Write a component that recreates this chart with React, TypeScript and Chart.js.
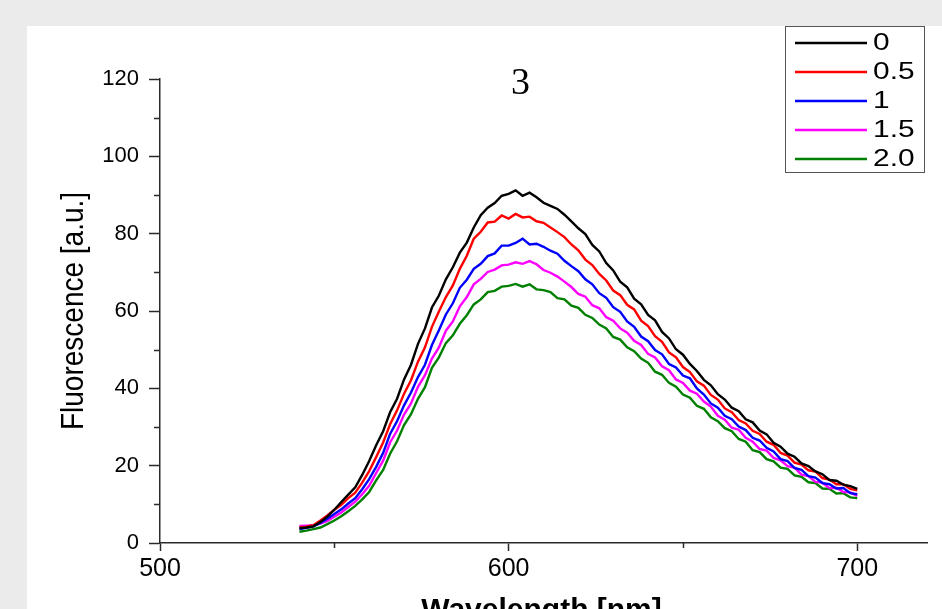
import React, { useEffect, useRef } from 'react';
import { Chart, registerables } from 'chart.js';

Chart.register(...registerables);

// ---------- data ----------
const wavelengths = [
  540, 542, 544, 546, 548, 550, 552, 554, 556, 558,
  560, 562, 564, 566, 568, 570, 572, 574, 576, 578,
  580, 582, 584, 586, 588, 590, 592, 594, 596, 598,
  600, 602, 604, 606, 608, 610, 612, 614, 616, 618,
  620, 622, 624, 626, 628, 630, 632, 634, 636, 638,
  640, 642, 644, 646, 648, 650, 652, 654, 656, 658,
  660, 662, 664, 666, 668, 670, 672, 674, 676, 678,
  680, 682, 684, 686, 688, 690, 692, 694, 696, 698,
  700,
];

const series0 = [
  3.8, 4.0, 4.3, 5.4, 6.8, 8.6, 10.6, 12.5, 14.4, 17.6,
  21.2, 25.3, 28.9, 33.8, 37.3, 42.3, 46.1, 51.5, 55.5, 60.9,
  64.0, 68.2, 71.3, 75.1, 77.7, 81.6, 84.8, 86.7, 87.9, 89.8,
  90.3, 91.2, 89.8, 90.6, 89.4, 88.0, 87.2, 86.4, 84.9, 83.2,
  81.4, 79.9, 77.1, 75.4, 72.4, 70.5, 67.6, 66.1, 63.2, 61.7,
  59.0, 57.6, 54.6, 52.9, 50.1, 48.7, 46.3, 44.5, 42.2, 40.8,
  38.5, 37.1, 35.0, 34.1, 32.0, 31.2, 29.1, 28.1, 25.9, 24.9,
  23.1, 22.3, 20.6, 19.9, 18.5, 17.8, 16.3, 16.1, 15.1, 14.7,
  14.0,
];

const series05 = [
  4.0, 4.2, 4.6, 5.8, 7.1, 8.6, 9.9, 11.6, 13.0, 15.6,
  18.6, 22.2, 26.0, 30.7, 34.3, 38.6, 42.1, 46.9, 50.6, 55.9,
  59.9, 63.6, 66.6, 70.9, 74.3, 78.7, 80.5, 82.9, 83.1, 84.7,
  83.9, 85.1, 84.2, 84.4, 83.2, 82.8, 81.6, 80.4, 79.1, 77.2,
  75.7, 73.3, 71.9, 69.6, 67.9, 65.3, 64.1, 61.6, 60.4, 57.5,
  56.1, 53.5, 52.0, 49.3, 48.0, 45.5, 44.2, 41.8, 40.7, 38.3,
  37.1, 34.8, 33.8, 31.8, 30.9, 29.0, 28.2, 26.2, 25.4, 23.3,
  22.6, 20.8, 20.3, 18.8, 18.5, 16.8, 16.4, 15.2, 15.2, 14.0,
  13.6,
];

const series1 = [
  3.6, 3.9, 4.3, 5.2, 6.3, 7.5, 8.7, 10.2, 11.6, 13.9,
  16.5, 19.7, 23.3, 28.2, 31.5, 35.6, 38.9, 42.9, 46.1, 51.2,
  55.0, 59.1, 62.0, 66.0, 68.1, 70.9, 72.2, 74.2, 74.9, 76.9,
  76.9, 77.6, 78.7, 77.2, 77.4, 76.6, 75.6, 74.8, 73.0, 71.6,
  70.3, 68.2, 66.9, 64.6, 63.4, 61.0, 59.8, 57.3, 55.9, 53.4,
  52.2, 49.9, 48.8, 46.3, 45.4, 43.3, 42.6, 40.0, 38.4, 36.1,
  35.0, 32.9, 32.0, 30.1, 29.2, 27.2, 26.5, 24.6, 23.7, 21.7,
  21.2, 19.4, 18.9, 17.3, 16.9, 15.5, 15.2, 14.1, 14.2, 12.9,
  12.6,
];

const series15 = [
  4.4, 4.5, 4.6, 5.0, 5.7, 6.8, 7.9, 9.3, 10.7, 12.6,
  14.8, 18.1, 21.3, 26.0, 29.1, 33.2, 36.1, 40.4, 43.4, 47.7,
  50.6, 54.9, 57.3, 61.2, 63.6, 66.9, 68.3, 70.1, 70.7, 71.8,
  72.0, 72.6, 72.2, 72.9, 72.1, 70.6, 69.9, 68.9, 67.6, 66.2,
  64.4, 63.7, 61.5, 60.7, 58.4, 57.5, 55.5, 54.4, 52.3, 51.2,
  48.9, 48.0, 45.7, 44.7, 42.3, 41.4, 39.4, 38.6, 36.6, 35.3,
  32.9, 31.9, 29.8, 29.3, 27.2, 26.2, 24.3, 23.9, 22.0, 21.4,
  19.9, 19.5, 17.7, 17.3, 15.8, 15.6, 14.2, 14.3, 13.2, 13.1,
  12.2,
];

const series20 = [
  2.9, 3.2, 3.6, 4.0, 4.9, 5.8, 6.9, 8.2, 9.6, 11.3,
  13.2, 16.2, 18.9, 23.1, 26.3, 30.5, 33.3, 37.3, 40.3, 45.3,
  48.0, 51.7, 53.7, 56.7, 58.9, 61.7, 63.0, 64.9, 65.2, 66.3,
  66.5, 67.0, 66.3, 66.9, 65.6, 65.4, 64.9, 63.3, 63.0, 61.4,
  60.8, 59.0, 58.2, 56.5, 55.5, 53.3, 52.6, 50.6, 49.6, 47.7,
  46.6, 44.3, 43.5, 41.4, 40.4, 38.4, 37.6, 35.5, 34.7, 32.5,
  31.5, 29.7, 28.9, 26.9, 26.2, 24.0, 23.5, 21.7, 21.1, 19.5,
  19.2, 17.5, 17.1, 15.7, 15.5, 14.1, 14.0, 12.8, 12.9, 11.8,
  11.6,
];

const seriesLabels = ['0', '0.5', '1', '1.5', '2.0'];
const seriesValues = [series0, series05, series1, series15, series20];
const seriesColors = ['#000000', '#ff0000', '#0000ff', '#ff00ff', '#008000'];

const xMin = 500;
const xMax = 720;
const xStep = 100;
const xMinorTicks = [550, 650];
const yMin = 0;
const yMax = 120;
const yStep = 20;
const yMinorTicks = [10, 30, 50, 70, 90, 110];

const chartTitle = '3';
const xTitle = 'Wavelength [nm]';
const yTitle = 'Fluorescence [a.u.]';

// ---------- styling ----------
const SANS = "'Liberation Sans', Arial, sans-serif";
const SERIF = "'Liberation Serif', 'Times New Roman', serif";
const AXIS_COLOR = '#2a2a2a';

const backgroundPlugin = {
  id: 'pageBackground',
  beforeDraw(chart: any) {
    const { ctx, width, height } = chart;
    ctx.save();
    ctx.fillStyle = '#ebebeb';
    ctx.fillRect(0, 0, width, height);
    ctx.fillStyle = '#ffffff';
    ctx.fillRect(27, 26, width - 27, height - 26);
    ctx.restore();
  },
};

const decorPlugin = {
  id: 'decor',
  afterDraw(chart: any) {
    const { ctx, chartArea } = chart;
    const xs = chart.scales.x;
    const ys = chart.scales.y;
    ctx.save();
    // minor ticks
    ctx.strokeStyle = AXIS_COLOR;
    ctx.lineWidth = 1.5;
    ctx.beginPath();
    yMinorTicks.forEach((v) => {
      const py = Math.round(ys.getPixelForValue(v)) + 0.5;
      ctx.moveTo(chartArea.left - 6, py);
      ctx.lineTo(chartArea.left, py);
    });
    xMinorTicks.forEach((v) => {
      const px = Math.round(xs.getPixelForValue(v)) + 0.5;
      ctx.moveTo(px, chartArea.bottom);
      ctx.lineTo(px, chartArea.bottom + 5);
    });
    ctx.stroke();

    const cx = (chartArea.left + chartArea.right) / 2;
    // chart title
    ctx.fillStyle = '#000';
    ctx.textAlign = 'center';
    ctx.textBaseline = 'middle';
    ctx.font = `38px ${SERIF}`;
    ctx.fillText(chartTitle, cx - 23, chartArea.top + 5);

    // y title
    ctx.save();
    ctx.translate(75, (chartArea.top + chartArea.bottom) / 2);
    ctx.rotate(-Math.PI / 2);
    ctx.scale(1, 1.1);
    ctx.font = `28px ${SANS}`;
    ctx.fillText(yTitle, 0, 0);
    ctx.restore();

    // x title
    ctx.font = `bold 30px ${SANS}`;
    ctx.fillText(xTitle, cx - 2, chartArea.bottom + 68);

    // legend box
    const boxRight = chartArea.right - 3;
    const boxLeft = boxRight - 139;
    const boxTop = 26;
    const boxBottom = 172;
    ctx.fillStyle = '#ffffff';
    ctx.fillRect(boxLeft, boxTop, boxRight - boxLeft, boxBottom - boxTop);
    ctx.strokeStyle = '#555';
    ctx.lineWidth = 1;
    ctx.strokeRect(boxLeft + 0.5, boxTop + 0.5, boxRight - boxLeft, boxBottom - boxTop);
    chart.data.datasets.forEach((ds: any, i: number) => {
      const y = 43 + i * 29;
      ctx.strokeStyle = ds.borderColor;
      ctx.lineWidth = 2.4;
      ctx.beginPath();
      ctx.moveTo(boxLeft + 10, y);
      ctx.lineTo(boxLeft + 82, y);
      ctx.stroke();
      ctx.save();
      ctx.translate(boxLeft + 88, y + 1);
      ctx.scale(1.3, 1);
      ctx.fillStyle = '#000';
      ctx.textAlign = 'left';
      ctx.textBaseline = 'middle';
      ctx.font = `23px ${SANS}`;
      ctx.fillText(ds.label, 0, 0);
      ctx.restore();
    });
    ctx.restore();
  },
};

export default function App() {
  const canvasRef = useRef<HTMLCanvasElement | null>(null);

  useEffect(() => {
    if (!canvasRef.current) return;
    const datasets = seriesLabels.map((label, i) => ({
      label,
      data: wavelengths.map((w, j) => ({ x: w, y: seriesValues[i][j] })),
      borderColor: seriesColors[i],
      backgroundColor: seriesColors[i],
      borderWidth: 2.4,
      pointRadius: 0,
      tension: 0,
      fill: false,
    }));

    const chart = new Chart(canvasRef.current, {
      type: 'line',
      data: { datasets },
      options: {
        responsive: false,
        animation: false,
        events: [],
        layout: { padding: { left: 0, right: 15, top: 79, bottom: 0 } },
        plugins: {
          legend: { display: false },
          title: { display: false },
          tooltip: { enabled: false },
        },
        scales: {
          x: {
            type: 'linear',
            min: xMin,
            max: xMax,
            ticks: {
              stepSize: xStep,
              includeBounds: false,
              autoSkip: false,
              maxRotation: 0,
              color: '#000',
              padding: 3,
              font: { family: SANS, size: 25 },
            },
            grid: {
              display: true,
              drawOnChartArea: false,
              drawTicks: true,
              tickLength: 8,
              tickWidth: 1.5,
              tickColor: AXIS_COLOR,
            },
            border: { display: true, color: AXIS_COLOR, width: 1.5 },
            afterFit: (s: any) => { s.height = 66; },
          },
          y: {
            type: 'linear',
            min: yMin,
            max: yMax,
            ticks: {
              stepSize: yStep,
              includeBounds: false,
              color: '#000',
              padding: 10,
              font: { family: SANS, size: 22 },
            },
            grid: {
              display: true,
              drawOnChartArea: false,
              drawTicks: true,
              tickLength: 11,
              tickWidth: 1.5,
              tickColor: AXIS_COLOR,
            },
            border: { display: true, color: AXIS_COLOR, width: 1.5 },
            afterFit: (s: any) => { s.width = 160; },
          },
        },
      } as any,
      plugins: [backgroundPlugin, decorPlugin],
    });
    return () => chart.destroy();
  }, []);

  return (
    <div style={{ position: 'fixed', left: 0, top: 0, width: 942, height: 609, overflow: 'hidden' }}>
      <canvas ref={canvasRef} width={942} height={609} style={{ display: 'block' }} />
    </div>
  );
}
